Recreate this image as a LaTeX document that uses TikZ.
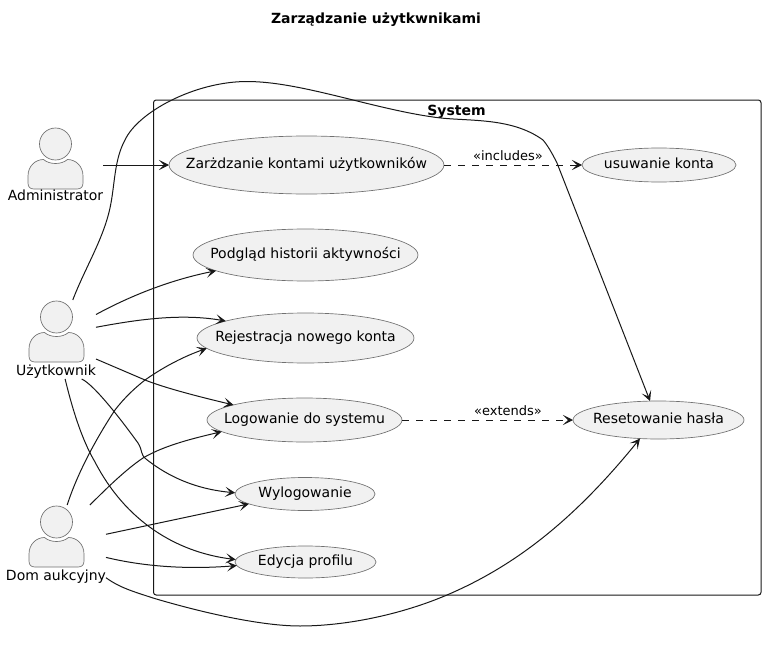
\documentclass[tikz,border=0pt]{standalone}
\usepackage{fontspec}
\setmainfont{DejaVu Sans}
\usetikzlibrary{arrows.meta,shapes.geometric}
\definecolor{ink}{HTML}{181818}
\definecolor{outline}{HTML}{707070}
\definecolor{ucfill}{HTML}{F1F1F1}
\newcommand{\uctext}[1]{\makebox[0pt]{\smash{\raisebox{-2.6pt}{#1}}}}
\tikzset{
	usecase/.style n args={2}{ellipse,draw=outline,line width=0.5pt,fill=ucfill,inner sep=0pt,outer sep=0pt,
		minimum width=#1*0.75pt,minimum height=#2*0.75pt,font=\fontsize{10.5pt}{12pt}\selectfont},
	actorbox/.style n args={2}{rectangle,draw=none,inner sep=0pt,outer sep=0pt,minimum width=#1*0.75pt,minimum height=#2*0.75pt},
	actorname/.style={inner sep=0pt,anchor=base,font=\fontsize{10.5pt}{12pt}\selectfont},
	boldname/.style={inner sep=0pt,anchor=base,font=\bfseries\fontsize{10.5pt}{12pt}\selectfont},
	edge/.style={draw=ink,line width=0.75pt,-{Stealth[length=7.5pt,width=7.5pt,inset=3.75pt]}},
	dashededge/.style={edge,dash pattern=on 5.25pt off 5.25pt},
	stereo/.style={inner sep=0pt,anchor=base,font=\fontsize{9.75pt}{11pt}\selectfont},
	actorfig/.pic={
		\draw[draw=outline,line width=0.5pt,fill=ucfill] (0,0) circle[radius=12pt];
		\draw[draw=outline,line width=0.5pt,fill=ucfill] (-21.5,45) .. controls (-25.5,45) and (-27.5,43) .. (-27.5,39)
			-- (-27.5,32) .. controls (-27.5,22) and (-20,15.5) .. (-12,15.5)
			.. controls (-9,18) and (-5,19.5) .. (0,19.5) .. controls (5,19.5) and (9,18) .. (12,15.5)
			.. controls (20,15.5) and (27.5,22) .. (27.5,32) -- (27.5,39)
			.. controls (27.5,43) and (25.5,45) .. (21.5,45) -- cycle;
	},
}
\begin{document}
\begin{tikzpicture}[x=0.75pt,y=-0.75pt]
	\useasboundingbox (0,0) rectangle (765,646);
	\node[boldname] (title) at (376,23) {Zarządzanie użytkwnikami};

	\draw[draw=ink,line width=0.75pt,rounded corners=2pt] (153.5,100) rectangle (761,595);
	\node[boldname] (system) at (456.5,115) {System};

	\pic at (55.5,144) {actorfig};
	\pic at (56.5,317) {actorfig};
	\pic at (56.5,522) {actorfig};
	\node[actorname] (adminname) at (55.5,200.5) {Administrator};
	\node[actorname] (usrname) at (56,375) {Użytkownik};
	\node[actorname] (domname) at (56,580) {Dom aukcyjny};
	\node[actorbox={95}{79}] (admin) at (55.5,165) {};
	\node[actorbox={80}{79}] (usr) at (56,339.5) {};
	\node[actorbox={100}{78}] (dom) at (56,544) {};

	\node[usecase={275}{58}] (manage) at (306.5,165) {\uctext{Zarżdzanie kontami użytkowników}};
	\node[usecase={154}{34}] (remove) at (659,165) {\uctext{usuwanie konta}};
	\node[usecase={225}{52}] (history) at (305.5,255) {\uctext{Podgląd historii aktywności}};
	\node[usecase={217}{50}] (register) at (305.5,338) {\uctext{Rejestracja nowego konta}};
	\node[usecase={195}{44}] (login) at (304.5,420) {\uctext{Logowanie do systemu}};
	\node[usecase={171}{38}] (reset) at (658.5,420) {\uctext{Resetowanie hasła}};
	\node[usecase={140}{33}] (logout) at (305,494) {\uctext{Wylogowanie}};
	\node[usecase={141}{32}] (profile) at (305.5,562) {\uctext{Edycja profilu}};

	\draw[edge] (admin.east) -- (manage.west);
	\draw[dashededge] (manage.east) -- (remove.west);
	\node[stereo] (incl) at (508,160.7) {«includes»};
	\draw[dashededge] (login.east) -- (reset.west);
	\node[stereo] (ext) at (508,415.7) {«extends»};

	\draw[edge] (usr.67) .. controls (85,268) and (103,240) .. (110,208)
		.. controls (115,185) and (114,160) .. (125,140)
		.. controls (138,112) and (195,81.5) .. (247,81.5)
		.. controls (300,81.5) and (370,108) .. (433,117)
		.. controls (465,122) and (510,116) .. (543,140)
		.. controls (548,146) and (552,153) .. (557,163)
		-- (reset.114);
	\draw[edge] (usr.32.5) .. controls (130,296) and (170,280) .. (history.190);
	\draw[edge] (usr.17.4) .. controls (135,320) and (180,313) .. (register.168.5);
	\draw[edge] (usr.-26) -- (145,380) .. controls (165,388) and (200,397) .. (login.168);
	\draw[edge] (usr.-57.7) .. controls (95,385) and (125,425) .. (138,443)
		.. controls (143,451) and (140,454) .. (146,459)
		.. controls (175,482) and (205,490) .. (logout.179);
	\draw[edge] (usr.-77) .. controls (75,420) and (85,445) .. (95,462)
		.. controls (125,520) and (175,552) .. (profile.178);
	\draw[edge] (dom.74.2) .. controls (80,465) and (105,425) .. (115,410)
		.. controls (125,397) and (135,388) .. (145,380)
		.. controls (165,366) and (185,356) .. (register.186.8);
	\draw[edge] (dom.49.8) .. controls (105,490) and (125,470) .. (143,458)
		.. controls (165,445) and (195,438) .. (login.188.4);
	\draw[edge] (dom.11.3) -- (logout.190.7);
	\draw[edge] (dom.-15.6) .. controls (150,568) and (195,569) .. (profile.183.3);
	\draw[edge] (dom.-34.2) .. controls (120,588) and (135,592) .. (153,598)
		.. controls (200,612) and (260,626) .. (300,626)
		.. controls (345,626) and (400,615) .. (447,595)
		.. controls (510,568) and (570,525) .. (reset.225.8);
\end{tikzpicture}
\end{document}
